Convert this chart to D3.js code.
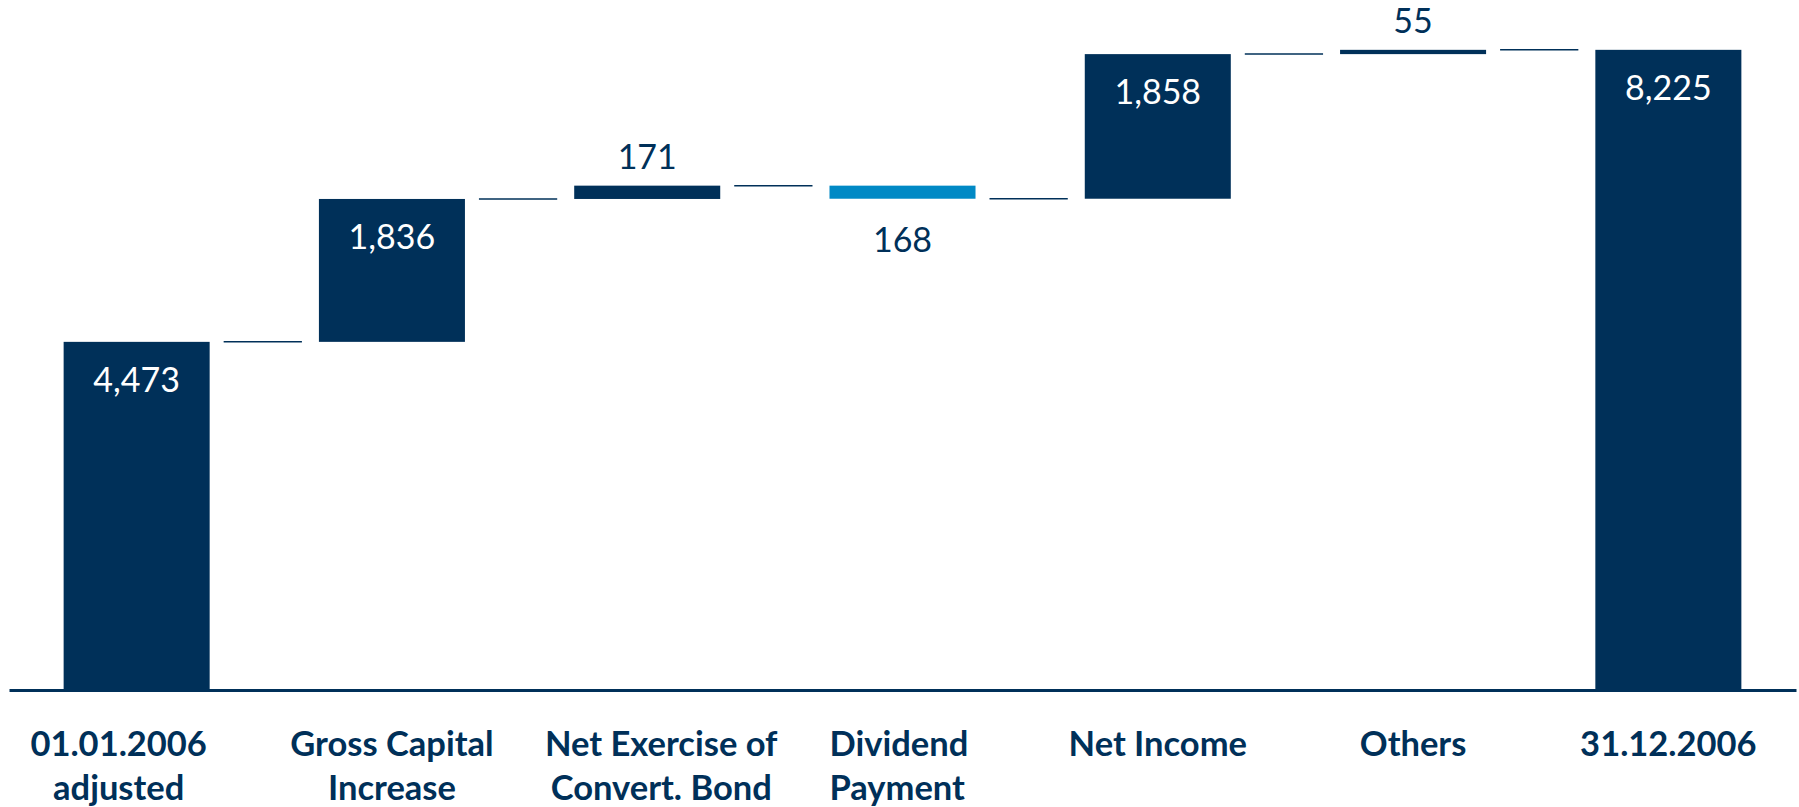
<!DOCTYPE html>
<html>
<head>
<meta charset="utf-8">
<script src="https://cdn.jsdelivr.net/npm/d3@7"></script>
<style>
  html, body { margin: 0; padding: 0; background: #ffffff; }
  svg { display: block; }
</style>
</head>
<body>
<svg id="chart" width="1799" height="807"></svg>
<script>
// Equity development 2006 (waterfall)
const categories = [
  "01.01.2006 adjusted",
  "Gross Capital Increase",
  "Net Exercise of Convert. Bond",
  "Dividend Payment",
  "Net Income",
  "Others",
  "31.12.2006"
];
const categoryLines = [
  ["01.01.2006", "adjusted"],
  ["Gross Capital", "Increase"],
  ["Net Exercise of", "Convert. Bond"],
  ["Dividend", "Payment"],
  ["Net Income"],
  ["Others"],
  ["31.12.2006"]
];
const values = [4473, 1836, 171, -168, 1858, 55, 8225];
const barTypes = ["total", "delta", "delta", "delta", "delta", "delta", "total"];

// label placement tweaks for the category captions
const captionAnchor = ["middle", "middle", "middle", "start", "middle", "middle", "middle"];
const captionDx = [-18, 0, 14, 0, 0, 0, 0];

const NAVY = "#003059";
const LIGHT_BLUE = "#0089c5";

const svg = d3.select("#chart");
const axisY = 690;

// running totals -> start/end of each bar
let running = 0;
const bars = values.map((v, i) => {
  let y0, y1;
  if (barTypes[i] === "total") { y0 = 0; y1 = v; running = v; }
  else { y0 = running; y1 = running + v; running = y1; }
  return { cat: categories[i], value: v, type: barTypes[i], lo: Math.min(y0, y1), hi: Math.max(y0, y1), end: running };
});

const x = d3.scaleBand()
  .domain(categories)
  .range([9, 1796])
  .paddingInner(0.428)
  .paddingOuter(0.214);

const y = d3.scaleLinear()
  .domain([0, 8300])
  .range([axisY, 44]);

const bw = x.bandwidth();

// connectors between consecutive bars at the running total
const links = bars.slice(0, -1).map((b, i) => ({ x1: x(b.cat) + bw + 14, x2: x(bars[i + 1].cat) - 17, v: b.end }));
svg.append("g").selectAll("line").data(links).join("line")
  .attr("x1", d => d.x1).attr("x2", d => d.x2)
  .attr("y1", d => y(d.v)).attr("y2", d => y(d.v))
  .attr("stroke", NAVY).attr("stroke-width", 1.5);

// bars
svg.append("g").selectAll("rect").data(bars).join("rect")
  .attr("x", d => x(d.cat))
  .attr("width", bw)
  .attr("y", d => y(d.hi))
  .attr("height", d => y(d.lo) - y(d.hi))
  .attr("fill", d => d.value < 0 ? LIGHT_BLUE : NAVY);

// value labels
const fmt = d3.format(",");
svg.append("g").selectAll("text").data(bars).join("text")
  .attr("x", d => x(d.cat) + bw / 2)
  .attr("y", d => {
    const h = y(d.lo) - y(d.hi);
    if (h > 60) return y(d.hi) + 50;
    if (d.value < 0) return y(d.lo) + 53;
    return y(d.hi) - 17;
  })
  .attr("text-anchor", "middle")
  .attr("font-family", "Lato, 'Open Sans', sans-serif")
  .attr("font-size", 34)
  .attr("font-weight", 400)
  .attr("fill", d => (y(d.lo) - y(d.hi) > 60) ? "#ffffff" : NAVY)
  .text(d => fmt(Math.abs(d.value)));

// baseline axis with two-line category captions
const axis = d3.axisBottom(x).tickSize(0).tickSizeOuter(0).tickPadding(0);
const gAxis = svg.append("g").attr("transform", `translate(0,${axisY})`).call(axis);
gAxis.select(".domain").attr("stroke", NAVY).attr("stroke-width", 3);
gAxis.selectAll(".tick text").each(function (d, i) {
  const t = d3.select(this);
  t.text(null)
    .attr("y", 0)
    .attr("dy", null)
    .attr("fill", NAVY)
    .attr("font-family", "Lato, 'Open Sans', sans-serif")
    .attr("font-size", 34.5)
    .attr("font-weight", 700)
    .attr("text-anchor", captionAnchor[i])
    .attr("x", captionAnchor[i] === "start" ? -bw / 2 : captionDx[i]);
  categoryLines[i].forEach((line, k) => {
    t.append("tspan")
      .attr("x", captionAnchor[i] === "start" ? -bw / 2 : captionDx[i])
      .attr("y", 66 + k * 44)
      .text(line);
  });
});
</script>
</body>
</html>
